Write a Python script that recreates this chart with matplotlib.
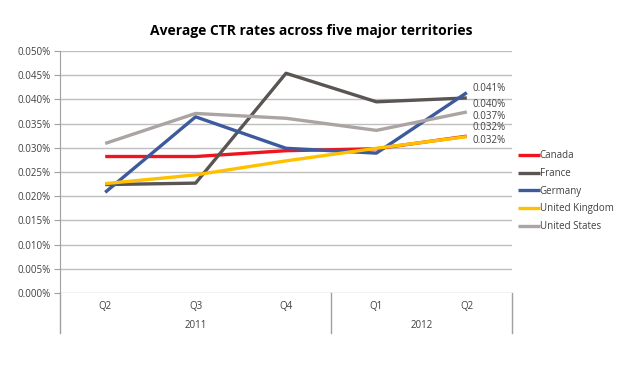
import matplotlib
matplotlib.use("Agg")
import matplotlib.pyplot as plt
from matplotlib.ticker import FuncFormatter
import matplotlib.transforms as mtransforms

quarters = ["Q2", "Q3", "Q4", "Q1", "Q2"]
years = ["2011", "2012"]
year_spans = [(0, 2), (3, 4)]
series_names = ["Canada", "France", "Germany", "United Kingdom", "United States"]
# values in percent
canada = [0.0282, 0.0282, 0.0294, 0.0298, 0.0324]
france = [0.0224, 0.0227, 0.0454, 0.0395, 0.0403]
germany = [0.0208, 0.0364, 0.0299, 0.0289, 0.0414]
uk = [0.0226, 0.0244, 0.0273, 0.0299, 0.0323]
us = [0.0309, 0.0371, 0.0361, 0.0336, 0.0374]
end_labels = ["0.032%", "0.040%", "0.041%", "0.032%", "0.037%"]

colors = ["#F0141E", "#5A5452", "#3C5A9C", "#FFC000", "#ABA4A2"]
label_offsets = [6, -5, 3, -3, -3]  # points, vertical offset of end labels

plt.rcParams['font.family'] = ['Open Sans', 'DejaVu Sans']
fig = plt.figure(figsize=(6.23, 3.66), dpi=100)
ax = fig.add_axes([60/623, 1-293/366, 452/623, 242/366])

data = [canada, france, germany, uk, us]
x = list(range(len(quarters)))
for name, vals, c in zip(series_names, data, colors):
    ax.plot(x, vals, color=c, lw=2.4, label=name, solid_capstyle='butt')

for vals, lab, off in zip(data, end_labels, label_offsets):
    ax.annotate(lab, xy=(x[-1], vals[-1]), xytext=(4, off), textcoords='offset points',
                fontsize=7, color='#404040', va='center', ha='left', annotation_clip=False)

ax.set_xlim(-0.5, 4.5)
ax.set_ylim(0, 0.05)
ax.set_yticks([i * 0.005 for i in range(11)])
ax.yaxis.set_major_formatter(FuncFormatter(lambda v, p: f"{v:.3f}%"))
ax.tick_params(axis='y', length=4, labelsize=7, colors='#404040', pad=3, color='#A0A0A0')
ax.grid(axis='y', color='#BFBFBF', lw=1)
ax.set_axisbelow(True)
for s in ['top', 'right', 'bottom']:
    ax.spines[s].set_visible(False)
ax.spines['left'].set_color('#A0A0A0')
ax.set_xticks([])

trans = mtransforms.blended_transform_factory(ax.transData, ax.transAxes)
for xi, q in zip(x, quarters):
    ax.text(xi, -0.055, q, transform=trans, ha='center', va='center', fontsize=7, color='#404040')
for (a, b), yr in zip(year_spans, years):
    ax.text((a + b) / 2, -0.135, yr, transform=trans, ha='center', va='center', fontsize=7, color='#404040')
for xs in [-0.5, 2.5, 4.5]:
    ax.plot([xs, xs], [0, -0.165], transform=trans, color='#A0A0A0', lw=1, clip_on=False)

fig.text(0.5, 1 - 31/366, "Average CTR rates across five major territories", ha='center', va='center',
         fontsize=10, fontweight='bold', color='black')

leg = ax.legend(loc='upper left', bbox_to_anchor=(1.005, 0.605), frameon=False, fontsize=7,
                handlelength=2.2, handletextpad=0.0, labelspacing=0.68, borderaxespad=0)
for t in leg.get_texts():
    t.set_color('#404040')

fig.savefig("out.png", dpi=100, facecolor='white')
